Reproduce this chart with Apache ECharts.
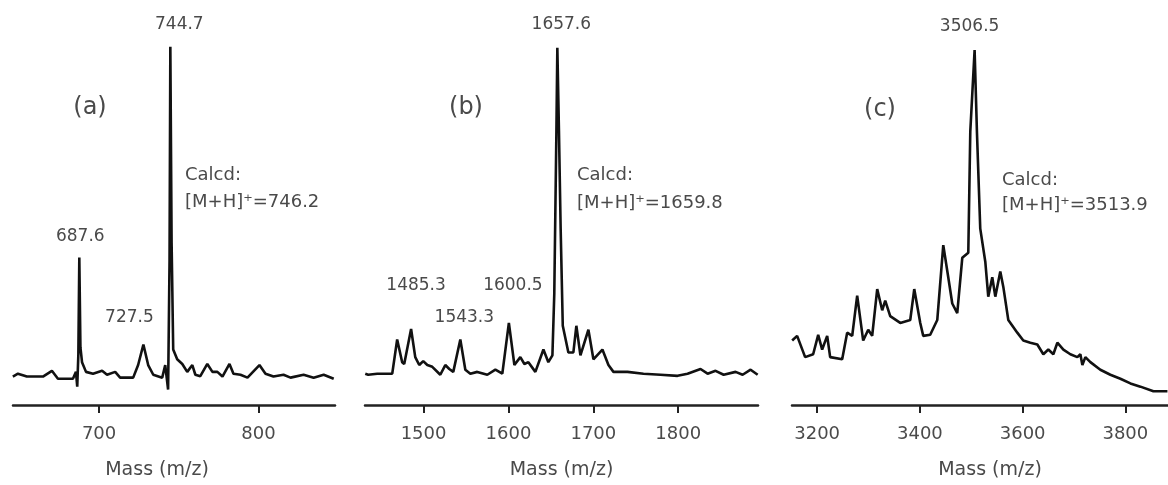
<!DOCTYPE html>
<html>
<head>
<meta charset="utf-8">
<style>
  html, body { margin: 0; padding: 0; background: #fff; }
  #chart { width: 1168px; height: 485px; }
</style>
<script src="https://cdn.jsdelivr.net/npm/echarts@6/dist/echarts.min.js"></script>
</head>
<body>
<div id="chart"></div>
<script>
"use strict";

// (a) spectrum: m/z and relative intensity
var massA = [645.9, 649.1, 654.7, 664.8, 670.4, 674.2, 683.6, 685.5, 686.3, 687.0, 687.6, 688.3, 689.3, 691.8, 696.2,
    701.9, 705.0, 710.1, 713.2, 721.4, 724.5, 727.8, 730.8, 734.0, 739.6, 741.5, 743.3, 744.2, 744.7, 745.5, 746.5,
    749.0, 752.2, 755.3, 758.5, 760.4, 763.5, 767.9, 771.1, 774.2, 777.4, 781.8, 784.3, 788.7, 793.1, 800.6, 804.4,
    809.4, 815.7, 820.1, 828.3, 834.6, 840.9, 847.2];
var intA = [7.9, 8.7, 7.9, 7.9, 9.5, 7.3, 7.3, 9.2, 5.1, 14, 41, 16, 11.9, 9.2, 8.7,
    9.5, 8.4, 9.2, 7.6, 7.6, 11.1, 16.8, 11.1, 8.4, 7.6, 11.1, 4.3, 40, 99.5, 45, 15.4,
    12.7, 11.4, 9.2, 11.1, 8.4, 8.0, 11.4, 9.2, 9.2, 7.9, 11.4, 8.7, 8.4, 7.6, 11.1, 8.7,
    7.9, 8.4, 7.6, 8.4, 7.6, 8.4, 7.3];

// (b)
var massB = [1431.3, 1434.8, 1445.4, 1463.1, 1468.9, 1474.8, 1477.2, 1485.3, 1490.2, 1494.9, 1499.6, 1504.4, 1510.3,
    1519.7, 1525.6, 1530.3, 1535.0, 1543.3, 1549.2, 1555.1, 1563.3, 1575.1, 1584.6, 1592.8, 1600.5, 1607.0, 1614.0,
    1618.8, 1623.5, 1631.7, 1641.2, 1647.0, 1651.8, 1654.0, 1656.5, 1657.6, 1659.5, 1661.5, 1664.0, 1670.6, 1676.5,
    1680.0, 1684.8, 1694.2, 1700.1, 1710.7, 1717.8, 1723.7, 1740.2, 1759.1, 1779.1, 1799.2, 1811.0, 1826.3, 1834.6,
    1844.0, 1853.5, 1867.6, 1875.9, 1885.3, 1893.6];
var intB = [8.7, 8.4, 8.7, 8.7, 18.2, 11.9, 11.4, 21.1, 13.3, 11.1, 12.2, 11.1, 10.6,
    8.4, 11.1, 10.0, 9.2, 18.2, 9.8, 8.7, 9.2, 8.4, 9.8, 8.7, 22.8, 11.1, 13.3,
    11.4, 11.9, 9.2, 15.4, 11.9, 13.8, 30.9, 76.2, 99.2, 76.2, 49, 22, 14.6, 14.6,
    22, 13.8, 20.9, 12.7, 15.4, 11.1, 9.2, 9.2, 8.7, 8.4, 8.1, 8.7, 10.0, 8.7,
    9.5, 8.4, 9.2, 8.4, 9.8, 8.4];

// (c)
var massC = [3151.3, 3161.0, 3176.6, 3192.2, 3202.0, 3209.7, 3219.5, 3225.3, 3248.7, 3258.4, 3268.2, 3277.9, 3289.6,
    3299.4, 3307.1, 3316.9, 3326.6, 3332.5, 3342.2, 3361.7, 3381.2, 3389.0, 3400.7, 3406.5, 3420.1, 3433.8, 3445.5,
    3455.2, 3463.0, 3472.7, 3482.5, 3494.2, 3498.1, 3506.5, 3511.0, 3517.5, 3527.3, 3533.1, 3540.9, 3546.8, 3556.5,
    3562.4, 3572.1, 3589.6, 3601.3, 3615.0, 3628.6, 3640.3, 3650.0, 3659.8, 3667.6, 3679.3, 3692.9, 3706.5, 3712.4,
    3716.3, 3722.1, 3731.9, 3751.3, 3770.8, 3790.3, 3809.8, 3829.3, 3854.6, 3881.9];
var intC = [17.9, 19.2, 13.3, 14.1, 19.5, 15.4, 19.2, 13.3, 12.7, 20.1, 19.2, 30.4, 17.9,
    20.9, 19.2, 32.2, 26.3, 29.0, 24.7, 22.8, 23.6, 32.2, 22.8, 19.2, 19.5, 23.6, 44.4,
    35.5, 28.2, 25.5, 40.9, 42.3, 76, 98.6, 76, 49, 39.8, 30.1, 35.5, 30.1, 37.1,
    32.8, 23.6, 20.1, 17.9, 17.3, 16.8, 14.1, 15.4, 14.1, 17.3, 15.4, 14.1, 13.3, 14.1,
    11.1, 13.3, 11.9, 9.8, 8.4, 7.3, 6.0, 5.1, 3.8, 3.8];

// labelled peaks
var peaksA = [687.6, 727.8, 744.7];
var peakIntA = [41, 16.8, 99.5];
var peakTextA = ["687.6", "727.5", "744.7"];
var peaksB = [1485.3, 1543.3, 1600.5, 1657.6];
var peakIntB = [21.1, 18.2, 22.8, 99.2];
var peakTextB = ["1485.3", "1543.3", "1600.5", "1657.6"];
var peaksC = [3506.5];
var peakIntC = [98.6];
var peakTextC = ["3506.5"];

var ticksA = [700, 800];
var ticksB = [1500, 1600, 1700, 1800];
var ticksC = [3200, 3400, 3600, 3800];

var calcd = ["[M+H]\u207A=746.2", "[M+H]\u207A=1659.8", "[M+H]\u207A=3513.9"];
var panelNames = ["(a)", "(b)", "(c)"];

var FONT = "DejaVu Sans";
var GREY = "#4a4a4a";

function zip(xs, ys) {
    return xs.map(function (x, i) { return [x, ys[i]]; });
}

// label offsets relative to each peak top, in px
var offA = [[1, -21], [-14, -27], [9, -22]];
var offB = [[5, -43], [4, -22], [4, -37], [4, -23]];
var offC = [[-5, -23]];

function peakMarks(xs, ys, texts, offs) {
    return {
        symbol: "circle",
        symbolSize: 0,
        silent: true,
        data: xs.map(function (x, i) {
            return {
                coord: [x, ys[i]],
                label: {
                    show: true, position: "inside", offset: offs[i], formatter: texts[i],
                    fontFamily: FONT, fontSize: 17, color: GREY
                }
            };
        })
    };
}

function xAxis(idx, min, max, ticks, namePad) {
    return {
        gridIndex: idx, type: "value", min: min, max: max,
        axisLine: { lineStyle: { color: "#222", width: 2.5 } },
        axisTick: { customValues: ticks, length: 8, lineStyle: { color: "#222", width: 2 } },
        axisLabel: {
            customValues: ticks, margin: 20, fontFamily: FONT, fontSize: 18, color: GREY,
            formatter: function (v) { return String(v); }
        },
        splitLine: { show: false },
        name: "Mass (m/z)", nameLocation: "middle", nameGap: 56,
        nameTextStyle: { fontFamily: FONT, fontSize: 19, color: GREY, padding: namePad }
    };
}

function yAxis(idx) {
    return { gridIndex: idx, type: "value", min: 0, max: 100, show: false };
}

function line(idx, data, marks) {
    return {
        type: "line", xAxisIndex: idx, yAxisIndex: idx, data: data,
        symbol: "none", lineStyle: { color: "#111", width: 2.6 }, markPoint: marks
    };
}

function txt(x, y, text, size, align) {
    return {
        type: "text", silent: true,
        style: {
            x: x, y: y, text: text, fill: GREY, textAlign: align || "left", textVerticalAlign: "middle",
            font: size + "px '" + FONT + "'"
        }
    };
}

var chart = echarts.init(document.getElementById("chart"));
chart.setOption({
    animation: false,
    backgroundColor: "#fff",
    grid: [
        { left: 13, width: 322, top: 45, bottom: 71 },
        { left: 365, width: 393, top: 45, bottom: 71 },
        { left: 792, width: 376, top: 45, bottom: 71 }
    ],
    xAxis: [
        xAxis(0, 646, 848, ticksA, [0, 34, 0, 0]),
        xAxis(1, 1431, 1894, ticksB, 0),
        xAxis(2, 3151, 3883, ticksC, [0, 0, 0, 20])
    ],
    yAxis: [yAxis(0), yAxis(1), yAxis(2)],
    series: [
        line(0, zip(massA, intA), peakMarks(peaksA, peakIntA, peakTextA, offA)),
        line(1, zip(massB, intB), peakMarks(peaksB, peakIntB, peakTextB, offB)),
        line(2, zip(massC, intC), peakMarks(peaksC, peakIntC, peakTextC, offC))
    ],
    graphic: [
        txt(90, 108, panelNames[0], 24, "center"),
        txt(466, 108, panelNames[1], 24, "center"),
        txt(880, 110, panelNames[2], 24, "center"),
        txt(185, 175, "Calcd:", 18),
        txt(185, 202, calcd[0], 18),
        txt(577, 175, "Calcd:", 18),
        txt(577, 203, calcd[1], 18),
        txt(1002, 180, "Calcd:", 18),
        txt(1002, 205, calcd[2], 18)
    ]
});
</script>
</body>
</html>
